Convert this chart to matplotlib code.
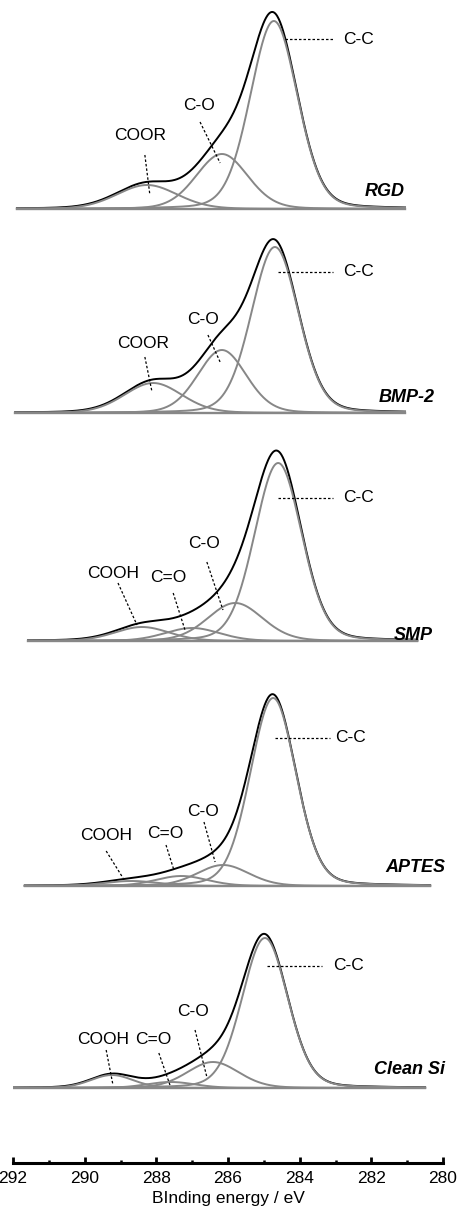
import numpy as np
import matplotlib
matplotlib.use("Agg")
import matplotlib.pyplot as plt

plt.rcParams['font.family'] = ['Liberation Sans', 'DejaVu Sans']

# ---------------- data ----------------
samples = ["RGD", "BMP-2", "SMP", "APTES", "Clean Si"]

# component labels per sample
rgd_labels = ["C-C", "C-O", "COOR"]
rgd_pos = [284.72, 286.17, 288.26]
rgd_height = [188, 55, 24]
rgd_fwhm = [1.55, 1.7, 2.0]

bmp_labels = ["C-C", "C-O", "COOR"]
bmp_pos = [284.69, 286.17, 288.09]
bmp_height = [166, 63, 30]
bmp_fwhm = [1.55, 1.6, 1.9]

smp_labels = ["C-C", "C-O", "C=O", "COOH"]
smp_pos = [284.60, 285.80, 287.00, 288.40]
smp_height = [178, 38, 13, 14]
smp_fwhm = [1.55, 1.8, 1.8, 1.8]

aptes_labels = ["C-C", "C-O", "C=O", "COOH"]
aptes_pos = [284.74, 286.14, 287.30, 288.70]
aptes_height = [188, 21, 10, 5]
aptes_fwhm = [1.5, 1.7, 1.7, 1.8]

si_labels = ["C-C", "C-O", "C=O", "COOH"]
si_pos = [284.97, 286.42, 287.60, 289.24]
si_height = [150, 26, 6, 13]
si_fwhm = [1.5, 1.7, 1.6, 1.4]

# measured energy range of each spectrum (eV)
e_start = [291.89, 291.94, 291.58, 291.67, 292.00]
e_end = [281.06, 281.06, 280.72, 280.36, 280.50]

x_ticks = [292, 290, 288, 286, 284, 282, 280]
x_label = "BInding energy / eV"

# ---------------- layout ----------------
W, H = 458, 1215
fig = plt.figure(figsize=(W / 100, H / 100), dpi=100)
ax = fig.add_axes([13 / W, 52 / H, 430 / W, 1163 / H])
ax.set_xlim(292, 280)
ax.set_ylim(0, 1163)

offsets = [954, 750, 522, 277, 75]
GRAY = '#878787'
ETA = 0.15


def pv(x, c, h, w):
    g = np.exp(-4 * np.log(2) * (x - c) ** 2 / w ** 2)
    l = 1.0 / (1.0 + 4 * (x - c) ** 2 / w ** 2)
    return h * ((1 - ETA) * g + ETA * l)


data = [
    (rgd_pos, rgd_height, rgd_fwhm),
    (bmp_pos, bmp_height, bmp_fwhm),
    (smp_pos, smp_height, smp_fwhm),
    (aptes_pos, aptes_height, aptes_fwhm),
    (si_pos, si_height, si_fwhm),
]

for i, (pos, hts, wds) in enumerate(data):
    off = offsets[i]
    x = np.linspace(e_start[i], e_end[i], 800)
    comps = [pv(x, c, h, w) for c, h, w in zip(pos, hts, wds)]
    env = np.sum(comps, axis=0)
    ax.plot(x, env + off, color='black', lw=1.4, zorder=2, solid_joinstyle='round')
    for cmp in comps:
        ax.plot(x, cmp + off, color=GRAY, lw=1.4, zorder=3)
    ax.plot(x, np.zeros_like(x) + off, color=GRAY, lw=1.7, zorder=3)

# annotations: (text, text_x, text_y, ha, leader start, leader end)
ann = [
    # RGD
    ("C-C", 282.79, 1124, 'left', (284.41, 1124), (283.07, 1124)),
    ("C-O", 286.81, 1057, 'center', (286.78, 1041), (286.22, 1000)),
    ("COOR", 288.46, 1028, 'center', (288.32, 1008), (288.18, 968)),
    # BMP-2
    ("C-C", 282.79, 891, 'left', (284.60, 891), (283.07, 891)),
    ("C-O", 286.70, 843, 'center', (286.56, 828), (286.22, 801)),
    ("COOR", 288.37, 820, 'center', (288.32, 806), (288.12, 771)),
    # SMP
    ("C-C", 282.79, 665, 'left', (284.60, 665), (283.07, 665)),
    ("C-O", 286.67, 619, 'center', (286.59, 601), (286.14, 553)),
    ("C=O", 287.67, 585, 'center', (287.53, 570), (287.20, 533)),
    ("COOH", 289.21, 590, 'center', (289.07, 580), (288.54, 538)),
    # APTES
    ("C-C", 283.01, 425, 'left', (284.69, 425), (283.15, 425)),
    ("C-O", 286.70, 351, 'center', (286.67, 341), (286.36, 301)),
    ("C=O", 287.76, 330, 'center', (287.73, 318), (287.51, 293)),
    ("COOH", 289.40, 328, 'center', (289.40, 312), (288.93, 285)),
    # Clean Si
    ("C-C", 283.07, 197, 'left', (284.91, 197), (283.38, 197)),
    ("C-O", 286.98, 151, 'center', (286.92, 133), (286.59, 86)),
    ("C=O", 288.09, 124, 'center', (287.93, 110), (287.62, 78)),
    ("COOH", 289.49, 124, 'center', (289.40, 113), (289.21, 78)),
]
for txt, tx, ty, ha, p0, p1 in ann:
    ax.text(tx, ty, txt, ha=ha, va='center', fontsize=12.5, color='black', zorder=5)
    ax.plot([p0[0], p1[0]], [p0[1], p1[1]], color='black', lw=0.9,
            linestyle=(0, (2.0, 1.6)), zorder=4)

name_pos = [(281.06, 971), (280.22, 766), (280.28, 528), (279.94, 295), (279.94, 93)]
for name, (nx, ny) in zip(samples, name_pos):
    ax.text(nx, ny, name, ha='right', va='center', fontsize=13,
            fontweight='bold', fontstyle='italic', zorder=5, clip_on=False)

# axes styling
for s in ['top', 'left', 'right']:
    ax.spines[s].set_visible(False)
ax.spines['bottom'].set_linewidth(2.2)
ax.set_yticks([])
ax.set_xticks(x_ticks)
ax.set_xticks(np.arange(281, 292, 2), minor=True)
ax.tick_params(axis='x', which='major', direction='in', length=4, width=2,
               labelsize=12.5, pad=6)
ax.tick_params(axis='x', which='minor', direction='in', length=2.5, width=1.8)
ax.set_xlabel(x_label, fontsize=12.5, labelpad=3)

fig.savefig("out.png", dpi=100)
